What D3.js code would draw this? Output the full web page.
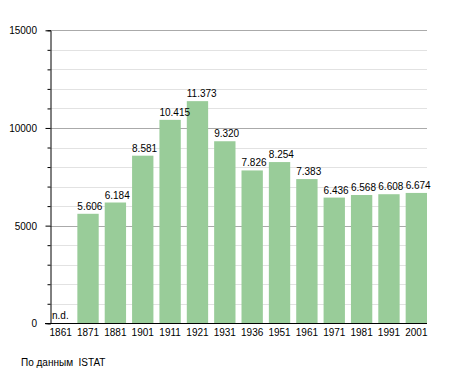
<!DOCTYPE html>
<html lang="en">

<head>
    <meta charset="UTF-8">
    <title>Popolazione</title>
    <script src="https://d3js.org/d3.v7.min.js"></script>
    <style>
        body {
            margin: 0;
            background: #fff;
        }

        svg text {
            font-family: "Liberation Sans", Arial, sans-serif;
            font-size: 10px;
            fill: #000;
        }
    </style>
</head>

<body>
    <div id="chart"></div>

    <script>
        const years = ["1861", "1871", "1881", "1901", "1911", "1921", "1931", "1936", "1951", "1961", "1971", "1981", "1991", "2001"];
        const population = [null, 5606, 6184, 8581, 10415, 11373, 9320, 7826, 8254, 7383, 6436, 6568, 6608, 6674];
        const majorTicks = [0, 5000, 10000, 15000];
        const minorTicks = d3.range(0, 15001, 1000);

        const width = 455;
        const height = 373;
        const plot = { left: 50, right: 427, top: 30.3, bottom: 323.3 };

        const fmt = d3.formatLocale({ decimal: ",", thousands: ".", grouping: [3], currency: ["", ""] }).format(",");

        const svg = d3.select("#chart")
            .append("svg")
            .attr("width", width)
            .attr("height", height);

        const x = d3.scaleBand()
            .domain(years)
            .range([plot.left, plot.right])
            .paddingInner(0.22)
            .paddingOuter(0)
            .align(0);

        const y = d3.scaleLinear()
            .domain([0, 15000])
            .range([plot.bottom, plot.top]);

        // grid
        svg.append("g")
            .selectAll("line")
            .data(minorTicks.filter(d => d % 5000 !== 0))
            .join("line")
            .attr("x1", plot.left)
            .attr("x2", plot.right)
            .attr("y1", d => Math.round(y(d)) + 0.5)
            .attr("y2", d => Math.round(y(d)) + 0.5)
            .attr("stroke", "#e2e2e2");

        svg.append("g")
            .selectAll("line")
            .data(majorTicks.filter(d => d > 0))
            .join("line")
            .attr("x1", plot.left)
            .attr("x2", plot.right)
            .attr("y1", d => Math.round(y(d)) + 0.5)
            .attr("y2", d => Math.round(y(d)) + 0.5)
            .attr("stroke", "#aaaaaa");

        // bars
        const data = years.map((yr, i) => ({ year: yr, value: population[i] }));

        svg.append("g")
            .selectAll("rect")
            .data(data.filter(d => d.value !== null))
            .join("rect")
            .attr("x", d => x(d.year))
            .attr("y", d => y(d.value))
            .attr("width", x.bandwidth())
            .attr("height", d => y(0) - y(d.value))
            .attr("fill", "#99cc99");

        svg.append("g")
            .selectAll("text")
            .data(data)
            .join("text")
            .attr("x", d => x(d.year) + (d.value === null ? 2 : 0))
            .attr("y", d => d.value === null ? y(0) - 4 : y(d.value) - 4)
            .text(d => d.value === null ? "n.d." : fmt(d.value));

        // y axis
        const yAxis = svg.append("g")
            .attr("transform", `translate(${plot.left + 0.5},0)`)
            .call(d3.axisLeft(y).tickValues(minorTicks).tickSize(3).tickFormat(""));
        yAxis.select(".domain").attr("stroke", "#000");
        yAxis.selectAll(".tick line").attr("stroke", "#000");
        yAxis.selectAll(".tick").filter(d => d % 5000 === 0).select("line").attr("x2", -5);

        svg.append("g")
            .selectAll("text")
            .data(majorTicks)
            .join("text")
            .attr("x", 37)
            .attr("y", d => y(d))
            .attr("dy", "0.4em")
            .attr("text-anchor", "end")
            .text(d => d);

        // x axis
        svg.append("line")
            .attr("x1", 45)
            .attr("x2", plot.right)
            .attr("y1", Math.round(y(0)) + 0.5)
            .attr("y2", Math.round(y(0)) + 0.5)
            .attr("stroke", "#000");

        svg.append("g")
            .selectAll("text")
            .data(years)
            .join("text")
            .attr("x", d => x(d) + x.bandwidth() / 2)
            .attr("y", 336)
            .attr("text-anchor", "middle")
            .text(d => d);

        svg.append("text")
            .attr("x", 21)
            .attr("y", 366)
            .text("По данным  ISTAT")
            .style("white-space", "pre");
    </script>
</body>

</html>
